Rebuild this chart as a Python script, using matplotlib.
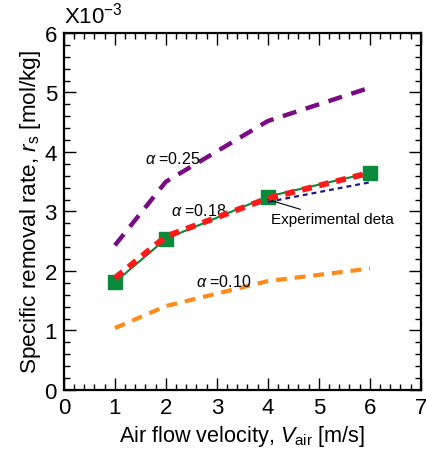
import matplotlib.pyplot as plt
from matplotlib.ticker import MultipleLocator

plt.rcParams['font.family'] = 'Liberation Sans'
plt.rcParams['mathtext.fontset'] = 'custom'
plt.rcParams['mathtext.rm'] = 'Liberation Sans'
plt.rcParams['mathtext.it'] = 'Liberation Sans:italic'

# simulated removal rate for three alpha values (x1e-3 mol/kg)
v_air = [1, 2, 4, 6]
rs_a025 = [2.43, 3.50, 4.52, 5.08]
rs_a018 = [1.88, 2.58, 3.22, 3.65]
rs_a010 = [1.04, 1.41, 1.83, 2.04]

# experimental data
v_exp = [1, 2, 4, 6]
rs_exp = [1.81, 2.54, 3.25, 3.65]

# linear extension from the last two points
v_ext = [4, 6]
rs_ext = [3.16, 3.49]

fig = plt.figure(figsize=(4.26, 4.52), dpi=100)
ax = fig.add_axes([0.150, 0.135, 0.838, 0.790])

ax.plot(v_air, rs_a025, color='#7b0a86', lw=3.2, dashes=(3.2, 2.2))
ax.plot(v_exp, rs_exp, color='#0a8a3a', lw=1.5, marker='s', ms=10,
        markerfacecolor='#0a8a3a', markeredgecolor='#0a8a3a', zorder=3)
ax.plot(v_ext, rs_ext, color='#1a1a8a', lw=1.6, dashes=(2.2, 1.8), zorder=3)
ax.plot(v_air, rs_a018, color='#ff1a1a', lw=4.2, dashes=(1.7, 1.3), zorder=4)
ax.plot(v_air, rs_a010, color='#ff8c1a', lw=3.0, dashes=(2.6, 1.9))

ax.text(1.6, 3.9, r'$\alpha$ =0.25', fontsize=11.5, va='center')
ax.text(2.1, 3.02, r'$\alpha$ =0.18', fontsize=11.5, va='center')
ax.text(2.6, 1.83, r'$\alpha$ =0.10', fontsize=11.5, va='center')
ax.annotate('Experimental deta', xy=(4.0, 3.2), xytext=(4.07, 2.87),
            fontsize=11, va='center',
            arrowprops=dict(arrowstyle='-', color='black', lw=0.8,
                            shrinkA=0, shrinkB=0))

ax.set_xlim(0, 7)
ax.set_ylim(0, 6)
ax.xaxis.set_major_locator(MultipleLocator(1))
ax.xaxis.set_minor_locator(MultipleLocator(0.2))
ax.yaxis.set_major_locator(MultipleLocator(1))
ax.yaxis.set_minor_locator(MultipleLocator(0.2))
ax.tick_params(which='both', direction='in', top=True, right=True,
               labelsize=16, width=1.0, pad=5)
ax.tick_params(which='major', length=8.5)
ax.tick_params(which='minor', length=4)
for s in ax.spines.values():
    s.set_linewidth(1.6)

ax.set_xlabel(r'Air flow velocity, $V_{\mathrm{air}}$ [m/s]', fontsize=15.6)
ax.set_ylabel(r'Specific removal rate, $r_{\mathrm{s}}$ [mol/kg]',
              fontsize=16.2, labelpad=1)
ax.text(0.0, 1.015, r'X10$^{-3}$', transform=ax.transAxes, fontsize=16,
        va='bottom', ha='left')

fig.savefig('out.png', dpi=100)
